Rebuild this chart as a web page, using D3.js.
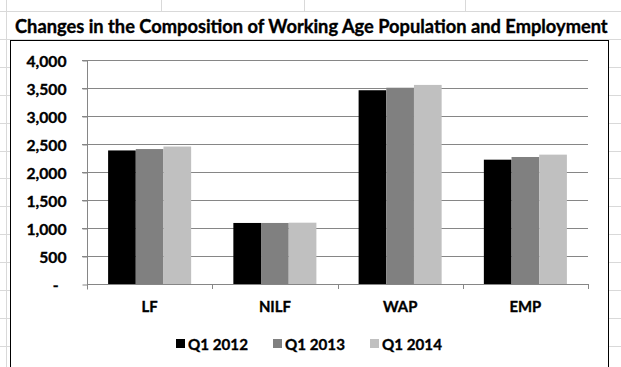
<!DOCTYPE html>
<html>
<head>
<meta charset="utf-8">
<script src="https://cdn.jsdelivr.net/npm/d3@7"></script>
<style>
  html, body { margin: 0; padding: 0; background: #fff; overflow: hidden; }
  text { font-family: Lato, "Open Sans", sans-serif; font-weight: bold; fill: #000; stroke: #000; stroke-width: 0.35px; }
</style>
</head>
<body>
<svg id="chart" width="621" height="367"></svg>
<script>
// ---- data ----
const title = "Changes in the Composition of Working Age Population and Employment";
const categories = ["LF", "NILF", "WAP", "EMP"];
const seriesNames = ["Q1 2012", "Q1 2013", "Q1 2014"];
const q1_2012 = [2385, 1090, 3460, 2220];
const q1_2013 = [2410, 1090, 3505, 2268];
const q1_2014 = [2455, 1095, 3555, 2310];
const yTicks = [0, 500, 1000, 1500, 2000, 2500, 3000, 3500, 4000];
const seriesColors = ["#000000", "#808080", "#c0c0c0"];

const seriesValues = [q1_2012, q1_2013, q1_2014];

// ---- layout ----
const W = 621, H = 367;
const plot = { left: 87, right: 588, top: 60, bottom: 284 };
const svg = d3.select("#chart");

function fitText(sel, targetWidth) {
  sel.attr("font-size", 100);
  const w = sel.node().getComputedTextLength();
  sel.attr("font-size", 100 * targetWidth / w);
  return 100 * targetWidth / w;
}
function measure(str, size) {
  const t = svg.append("text").attr("font-size", size).text(str);
  const w = t.node().getComputedTextLength();
  t.remove();
  return w;
}

// ---- spreadsheet background grid ----
const sheet = svg.append("g").attr("stroke", "#d9d9d9").attr("stroke-width", 1);
d3.range(11, H, 27.9).forEach(y => {
  sheet.append("line").attr("x1", 0).attr("x2", W)
    .attr("y1", Math.round(y) + 0.5).attr("y2", Math.round(y) + 0.5);
});
[6].forEach(x => {
  sheet.append("line").attr("x1", x + 0.5).attr("x2", x + 0.5).attr("y1", 0).attr("y2", H);
});
[161, 304, 465].forEach(x => {
  sheet.append("line").attr("x1", x + 0.5).attr("x2", x + 0.5).attr("y1", 0).attr("y2", 11);
});
svg.append("rect").attr("x", 7).attr("y", 12).attr("width", W - 7).attr("height", 26).attr("fill", "#fff");

// ---- title ----
const titleText = svg.append("text").attr("x", 15).attr("y", 33).text(title);
fitText(titleText, 593);

// ---- chart box ----
svg.append("rect").attr("x", 10.5).attr("y", 40.5).attr("width", 598).attr("height", H)
  .attr("fill", "#fff").attr("stroke", "#000").attr("stroke-width", 1);

// ---- scales ----
const y = d3.scaleLinear().domain([0, 4000]).range([plot.bottom, plot.top]);
const x0 = d3.scaleBand().domain(categories).range([plot.left, plot.right])
  .paddingInner(0.337).paddingOuter(0.1685);
const x1 = d3.scaleBand().domain(seriesNames).range([0, x0.bandwidth()]).padding(0);

const axisColor = "#868686";

// gridlines
const grid = svg.append("g");
yTicks.filter(t => t > 0).forEach(t => {
  grid.append("line").attr("x1", plot.left - 5).attr("x2", plot.right)
    .attr("y1", Math.round(y(t)) + 0.5).attr("y2", Math.round(y(t)) + 0.5)
    .attr("stroke", axisColor).attr("stroke-width", 1);
});

// bars
const groups = svg.append("g").selectAll("g").data(categories).join("g")
  .attr("transform", d => `translate(${x0(d)},0)`);
groups.selectAll("rect")
  .data((c, ci) => seriesNames.map((s, si) => ({ s, si, v: seriesValues[si][ci] })))
  .join("rect")
  .attr("x", d => x1(d.s))
  .attr("y", d => y(d.v))
  .attr("width", x1.bandwidth())
  .attr("height", d => y(0) - y(d.v))
  .attr("fill", d => seriesColors[d.si]);

// y axis
const yAxis = d3.axisLeft(y).tickValues(yTicks).tickSize(5)
  .tickFormat(d => d === 0 ? "-" : d3.format(",")(d));
const yg = svg.append("g").attr("transform", `translate(${plot.left + 0.5},0.5)`).call(yAxis);
yg.select(".domain").attr("stroke", axisColor).attr("d", `M0,${plot.top}V${plot.bottom + 5}`);
yg.selectAll(".tick line").attr("stroke", axisColor);
const ylabSize = 40 / measure("4,000", 100) * 100;
yg.selectAll(".tick text").attr("x", d => d === 0 ? -29 : -21).attr("dy", "0.38em")
  .attr("font-size", ylabSize)
  .attr("font-family", "Lato, sans-serif").attr("font-weight", "bold").attr("fill", "#000");

// x axis
const xg = svg.append("g");
xg.append("line").attr("x1", plot.left).attr("x2", plot.right + 0.5)
  .attr("y1", plot.bottom + 0.5).attr("y2", plot.bottom + 0.5)
  .attr("stroke", axisColor);
const step = x0.step();
d3.range(categories.length + 1).forEach(i => {
  const xx = Math.round(plot.left + i * step) + 0.5;
  xg.append("line").attr("x1", xx).attr("x2", xx)
    .attr("y1", plot.bottom).attr("y2", plot.bottom + 5).attr("stroke", axisColor);
});
const catSize = 32 / measure("NILF", 100) * 100;
xg.selectAll("text.cat").data(categories).join("text").attr("class", "cat")
  .attr("x", d => x0(d) + x0.bandwidth() / 2).attr("y", 312)
  .attr("text-anchor", "middle").attr("font-size", catSize).text(d => d);

// legend
const legSize = 60 / measure("Q1 2012", 100) * 100;
const legX = [176, 273, 370];
const leg = svg.append("g").selectAll("g").data(seriesNames).join("g")
  .attr("transform", (d, i) => `translate(${legX[i]},0)`);
leg.append("rect").attr("x", 0).attr("y", 339).attr("width", 9).attr("height", 9)
  .attr("fill", (d, i) => seriesColors[i]);
leg.append("text").attr("x", 12).attr("y", 349.5).attr("font-size", legSize).text(d => d);
</script>
</body>
</html>
